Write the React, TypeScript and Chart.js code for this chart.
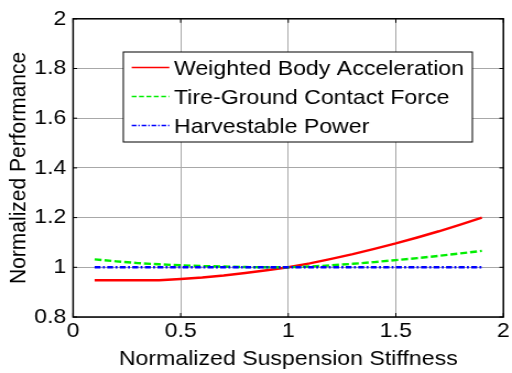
import React, { useEffect, useRef } from "react";
import { Chart, registerables } from "chart.js";

Chart.register(...registerables);

// Normalized suspension stiffness (x) and the three normalized performance curves
const stiffness = [0.1, 0.2, 0.3, 0.4, 0.5, 0.6, 0.7, 0.8, 0.9, 1.0, 1.1, 1.2, 1.3, 1.4, 1.5, 1.6, 1.7, 1.8, 1.9];
const bodyAcceleration = [0.948, 0.948, 0.948, 0.948, 0.953, 0.959, 0.967, 0.977, 0.988, 1.0, 1.016, 1.034, 1.053, 1.074, 1.096, 1.12, 1.145, 1.172, 1.2];
const contactForce = [1.032, 1.024, 1.017, 1.012, 1.008, 1.005, 1.003, 1.001, 1.0, 1.0, 1.003, 1.008, 1.014, 1.021, 1.029, 1.037, 1.046, 1.056, 1.066];
const harvestablePower = [1.0, 1.0, 1.0, 1.0, 1.0, 1.0, 1.0, 1.0, 1.0, 1.0, 1.0, 1.0, 1.0, 1.0, 1.0, 1.0, 1.0, 1.0, 1.0];

const seriesNames = ["Weighted Body Acceleration", "Tire-Ground Contact Force", "Harvestable Power"];

const xTicks = [0, 0.5, 1, 1.5, 2];
const xTickLabels = ["0", "0.5", "1", "1.5", "2"];
const yTicks = [0.8, 1, 1.2, 1.4, 1.6, 1.8, 2];
const yTickLabels = ["0.8", "1", "1.2", "1.4", "1.6", "1.8", "2"];

const xTitle = "Normalized Suspension Stiffness";
const yTitle = "Normalized Performance";

// Canvas is rendered slightly narrower and stretched horizontally by CSS
const CSS_W = 512;
const CSS_H = 373;
const SX = 1.1;
const W = Math.round(CSS_W / SX);
const H = CSS_H;

const FONT_FAMILY = "'Liberation Sans', Arial, Helvetica, sans-serif";
const FONT_SIZE = 21;

const RED = "#ff0000";
const GREEN = "#00ee00";
const BLUE = "#0000ff";

const GREEN_DASH = [6.3, 2.7];
const BLUE_DASH = [5.4, 2.1, 1.8, 2.1];

const points = (ys: number[]) => stiffness.map((x, i) => ({ x, y: ys[i] }));

const frameAndLegend = {
  id: "frameAndLegend",
  afterDraw(chart: any) {
    const { ctx, chartArea: a, scales } = chart;
    ctx.save();

    // axes box
    ctx.strokeStyle = "#000";
    ctx.lineWidth = 1.5;
    ctx.strokeRect(a.left, a.top, a.right - a.left, a.bottom - a.top);

    // inward tick marks on all four sides
    const seg = (x1: number, y1: number, x2: number, y2: number) => {
      ctx.beginPath();
      ctx.moveTo(x1, y1);
      ctx.lineTo(x2, y2);
      ctx.stroke();
    };
    ctx.lineWidth = 1;
    const tl = 4;
    xTicks.forEach((v) => {
      const px = scales.x.getPixelForValue(v);
      seg(px, a.bottom, px, a.bottom - tl);
      seg(px, a.top, px, a.top + tl);
    });
    yTicks.forEach((v) => {
      const py = scales.y.getPixelForValue(v);
      seg(a.left, py, a.left + tl / SX, py);
      seg(a.right, py, a.right - tl / SX, py);
    });

    // legend box
    const bx = 112;
    const by = 52;
    const bw = 317;
    const bh = 90;
    ctx.fillStyle = "#fff";
    ctx.fillRect(bx, by, bw, bh);
    ctx.strokeStyle = "#000";
    ctx.lineWidth = 1;
    ctx.strokeRect(bx, by, bw, bh);

    const styles = [
      { color: RED, dash: [] as number[], width: 1.6 },
      { color: GREEN, dash: [4.4, 2.3], width: 1.3 },
      { color: BLUE, dash: [4.3, 1.7, 1.3, 1.7], width: 1.3 },
    ];
    ctx.font = `${FONT_SIZE}px ${FONT_FAMILY}`;
    ctx.textAlign = "left";
    ctx.textBaseline = "alphabetic";
    seriesNames.forEach((name, i) => {
      const base = by + 23 + i * 29;
      const ly = base - 7.5;
      const s = styles[i];
      ctx.strokeStyle = s.color;
      ctx.lineWidth = s.width;
      ctx.setLineDash(s.dash);
      seg(bx + 7.6, ly, bx + 41.8, ly);
      ctx.setLineDash([]);
      ctx.fillStyle = "#000";
      ctx.fillText(name, bx + 46, base);
    });

    ctx.restore();
  },
};

export default function App() {
  const ref = useRef<HTMLCanvasElement>(null);

  useEffect(() => {
    const canvas = ref.current;
    if (!canvas) return;
    const font = { family: FONT_FAMILY, size: FONT_SIZE };

    const chart = new Chart(canvas, {
      type: "line",
      data: {
        datasets: [
          {
            label: seriesNames[0],
            data: points(bodyAcceleration),
            borderColor: RED,
            borderWidth: 2.4,
            pointRadius: 0,
            tension: 0,
            fill: false,
            order: 3,
          },
          {
            label: seriesNames[1],
            data: points(contactForce),
            borderColor: GREEN,
            borderWidth: 2.4,
            borderDash: GREEN_DASH,
            pointRadius: 0,
            tension: 0,
            fill: false,
            order: 2,
          },
          {
            label: seriesNames[2],
            data: points(harvestablePower),
            borderColor: BLUE,
            borderWidth: 2.4,
            borderDash: BLUE_DASH,
            pointRadius: 0,
            tension: 0,
            fill: false,
            order: 1,
          },
        ],
      },
      options: {
        animation: false,
        responsive: false,
        maintainAspectRatio: false,
        devicePixelRatio: 1,
        layout: { padding: { top: 13, right: 6.8, left: 0, bottom: 0 } },
        plugins: {
          legend: { display: false },
          tooltip: { enabled: false },
        },
        scales: {
          x: {
            type: "linear",
            min: 0,
            max: 2,
            afterBuildTicks: (s: any) => {
              s.ticks = xTicks.map((value) => ({ value }));
            },
            afterFit: (s: any) => {
              s.height = 56;
            },
            ticks: {
              font,
              color: "#000",
              padding: 2,
              maxRotation: 0,
              autoSkip: false,
              callback: (v: any) => xTickLabels[xTicks.indexOf(Number(v))] ?? "",
            },
            grid: { color: "#a8a8a8", lineWidth: 1, drawTicks: false },
            border: { display: false },
            title: { display: true, text: xTitle, font, color: "#000", padding: { top: 0, bottom: 1 } },
          },
          y: {
            type: "linear",
            min: 0.8,
            max: 2,
            afterBuildTicks: (s: any) => {
              s.ticks = yTicks.map((value) => ({ value }));
            },
            afterFit: (s: any) => {
              s.width = 66.4;
            },
            ticks: {
              font,
              color: "#000",
              padding: 6.2,
              autoSkip: false,
              callback: (v: any) => {
                const i = yTicks.findIndex((t) => Math.abs(t - Number(v)) < 1e-6);
                return i >= 0 ? yTickLabels[i] : "";
              },
            },
            grid: { color: "#a8a8a8", lineWidth: 1, drawTicks: false },
            border: { display: false },
            title: { display: true, text: yTitle, font, color: "#000", padding: { top: 4.5, bottom: 0 } },
          },
        },
      },
      plugins: [frameAndLegend],
    } as any);

    return () => chart.destroy();
  }, []);

  return (
    <div style={{ position: "absolute", left: 0, top: 0, width: CSS_W, height: CSS_H, background: "#fff" }}>
      <canvas
        ref={ref}
        width={W}
        height={H}
        style={{ width: `${CSS_W}px`, height: `${CSS_H}px`, display: "block" }}
      />
    </div>
  );
}
